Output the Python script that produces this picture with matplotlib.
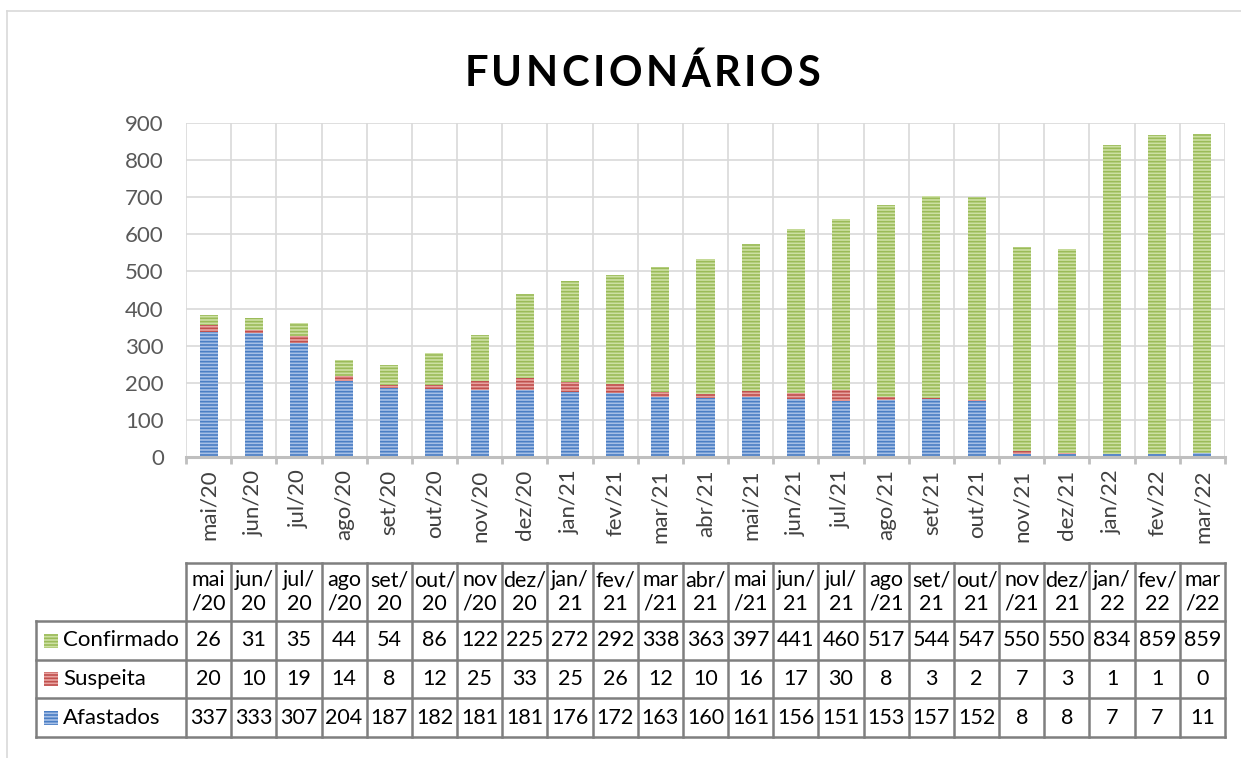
import matplotlib.pyplot as plt
import numpy as np
from matplotlib.patches import Rectangle
from matplotlib.lines import Line2D

plt.rcParams['font.family'] = ['Lato', 'DejaVu Sans']
plt.rcParams['hatch.linewidth'] = 1.2

meses = ['mai/20', 'jun/20', 'jul/20', 'ago/20', 'set/20', 'out/20', 'nov/20', 'dez/20',
         'jan/21', 'fev/21', 'mar/21', 'abr/21', 'mai/21', 'jun/21', 'jul/21', 'ago/21',
         'set/21', 'out/21', 'nov/21', 'dez/21', 'jan/22', 'fev/22', 'mar/22']
# cabeçalho da tabela, quebrado como no Excel
cabecalho = ['mai\n/20', 'jun/\n20', 'jul/\n20', 'ago\n/20', 'set/\n20', 'out/\n20', 'nov\n/20',
             'dez/\n20', 'jan/\n21', 'fev/\n21', 'mar\n/21', 'abr/\n21', 'mai\n/21', 'jun/\n21',
             'jul/\n21', 'ago\n/21', 'set/\n21', 'out/\n21', 'nov\n/21', 'dez/\n21', 'jan/\n22',
             'fev/\n22', 'mar\n/22']
confirmado = [26, 31, 35, 44, 54, 86, 122, 225, 272, 292, 338, 363, 397, 441, 460, 517,
              544, 547, 550, 550, 834, 859, 859]
suspeita = [20, 10, 19, 14, 8, 12, 25, 33, 25, 26, 12, 10, 16, 17, 30, 8, 3, 2, 7, 3, 1, 1, 0]
afastados = [337, 333, 307, 204, 187, 182, 181, 181, 176, 172, 163, 160, 161, 156, 151, 153,
             157, 152, 8, 8, 7, 7, 11]

# (face, listras)
cor_af = ('#a6bfe6', '#4a7ec4')
cor_su = ('#e8a3a1', '#c0504d')
cor_co = ('#cde0a3', '#9bbb59')

W, H = 1241, 758
fig = plt.figure(figsize=(W / 100, H / 100), dpi=100)

x = np.arange(len(meses))
af = np.array(afastados)
su = np.array(suspeita)
co = np.array(confirmado)

ax = fig.add_axes([186 / W, 1 - 457 / H, 1039 / W, 334 / H])
ax.bar(x, af, width=0.4, color=cor_af[0], edgecolor=cor_af[1], hatch='-----', lw=0, zorder=3)
ax.bar(x, su, bottom=af, width=0.4, color=cor_su[0], edgecolor=cor_su[1], hatch='-----', lw=0, zorder=3)
ax.bar(x, co, bottom=af + su, width=0.4, color=cor_co[0], edgecolor=cor_co[1], hatch='-----', lw=0, zorder=3)

ax.set_xlim(-0.5, len(meses) - 0.5)
ax.set_ylim(0, 900)
ax.set_yticks(np.arange(0, 901, 100))
ax.set_xticks(x)
ax.set_xticklabels(meses, rotation=90, fontsize=16, color='#404040')
ax.set_xticks(np.arange(-0.5, len(meses), 1), minor=True)
ax.tick_params(axis='x', which='major', length=0, pad=9)
ax.tick_params(axis='x', which='minor', length=5, width=2, color='#bfbfbf')
ax.tick_params(axis='y', length=0, pad=16, labelsize=16, labelcolor='#595959')
ax.grid(axis='y', color='#d9d9d9', lw=1.2, zorder=0)
ax.grid(axis='x', which='minor', color='#d9d9d9', lw=1.2, zorder=0)
for s in ['top', 'right', 'left']:
    ax.spines[s].set_visible(False)
ax.spines['bottom'].set_color('#bfbfbf')
ax.spines['bottom'].set_linewidth(2.2)
ax.spines['bottom'].set_zorder(4)

# tabela de dados
cw = 1039 / len(meses)
L = (186 - 36) / cw
xl = -0.5 - L
xr = len(meses) - 0.5
tb = fig.add_axes([36 / W, 1 - 737 / H, 1189 / W, 174 / H])
tb.set_xlim(xl, xr)
tb.set_ylim(737, 563)
tb.axis('off')

lc = '#7f7f7f'
lw = 1.8
fs = 15.5
linhas = [621, 660, 698, 737]
tb.plot([-0.5, xr], [563, 563], color=lc, lw=lw, clip_on=False)
for yy in linhas:
    tb.plot([xl, xr], [yy, yy], color=lc, lw=lw, clip_on=False)
for b in np.arange(-0.5, len(meses), 1):
    tb.plot([b, b], [563, 737], color=lc, lw=lw, clip_on=False)
tb.plot([xl, xl], [621, 737], color=lc, lw=lw, clip_on=False)

for i, h in enumerate(cabecalho):
    tb.text(i, 592, h, ha='center', va='center', fontsize=fs, linespacing=1.2, color='black')

series = [('Confirmado', confirmado, cor_co), ('Suspeita', suspeita, cor_su), ('Afastados', afastados, cor_af)]
centros = [640.5, 679, 717.5]
for (nome, vals, cor), yc in zip(series, centros):
    tb.add_patch(Rectangle((xl + 8 / cw, yc - 7), 14 / cw, 14, facecolor=cor[0], edgecolor=cor[1],
                           hatch='-----', lw=0, clip_on=False))
    tb.text(xl + 27 / cw, yc, nome, ha='left', va='center', fontsize=16, color='black')
    for i, v in enumerate(vals):
        tb.text(i, yc, str(v), ha='center', va='center', fontsize=fs, color='black')

# título com espaçamento entre letras
titulo = 'FUNCIONÁRIOS'
r = fig.canvas.get_renderer()
larg = []
for ch in titulo:
    t = fig.text(0, 0, ch, fontsize=30, fontweight='bold')
    larg.append(t.get_window_extent(r).width)
    t.remove()
esp = 3.5
total = sum(larg) + esp * (len(titulo) - 1)
px = 642 - total / 2
for ch, w in zip(titulo, larg):
    fig.text(px / W, 1 - 74 / H, ch, ha='left', va='center', fontsize=30, fontweight='bold', color='black')
    px += w + esp

# moldura do gráfico
fig.add_artist(Line2D([7 / W, 1], [1 - 11 / H, 1 - 11 / H], color='#d9d9d9', lw=1.2))
fig.add_artist(Line2D([7 / W, 7 / W], [0, 1 - 11 / H], color='#d9d9d9', lw=1.2))

fig.savefig('out.png', dpi=100)
